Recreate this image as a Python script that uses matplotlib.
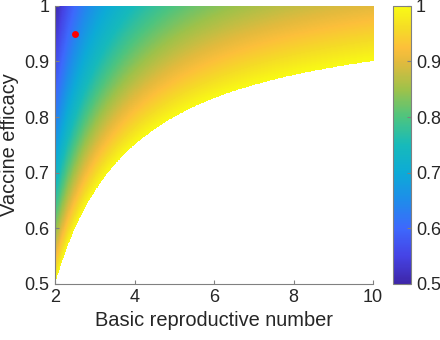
import numpy as np
import matplotlib.pyplot as plt
from matplotlib.colors import LinearSegmentedColormap

plt.rcParams['font.family'] = ['Liberation Sans', 'DejaVu Sans']

# axis ranges of the map
r0_range = [2, 10]
efficacy_range = [0.5, 1.0]
# red marker
point_r0 = [2.5]
point_eff = [0.95]
xticks = [2, 4, 6, 8, 10]
yticks = [0.5, 0.6, 0.7, 0.8, 0.9, 1.0]
ytick_labels = ['0.5', '0.6', '0.7', '0.8', '0.9', '1']
cbar_ticks = [0.5, 0.6, 0.7, 0.8, 0.9, 1.0]

# parula-like colormap
parula = LinearSegmentedColormap.from_list('parula', [
    (0.00, (0.2422, 0.1504, 0.6603)),
    (0.10, (0.2720, 0.2650, 0.9000)),
    (0.20, (0.2400, 0.4100, 0.9900)),
    (0.30, (0.1200, 0.5500, 0.9200)),
    (0.40, (0.0500, 0.6700, 0.8400)),
    (0.50, (0.0900, 0.7300, 0.7300)),
    (0.60, (0.3000, 0.7700, 0.5000)),
    (0.70, (0.6200, 0.7600, 0.2900)),
    (0.80, (0.8900, 0.7300, 0.2400)),
    (0.85, (0.9900, 0.7500, 0.2300)),
    (0.92, (0.9600, 0.8600, 0.1500)),
    (1.00, (0.9769, 0.9839, 0.0805)),
])

# critical coverage needed = (1 - 1/R0) / efficacy, blank where > 1
r0 = np.linspace(r0_range[0], r0_range[1], 900)
eff = np.linspace(efficacy_range[0], efficacy_range[1], 700)
R, E = np.meshgrid(r0, eff)
cov = (1 - 1 / R) / E
cov = np.ma.masked_where(cov > 1, cov)

fig = plt.figure(figsize=(4.4, 3.4), dpi=100)
ax = fig.add_axes([0.125, 0.165, 0.723, 0.818])
cax = fig.add_axes([0.893, 0.165, 0.040, 0.818])

im = ax.imshow(cov, origin='lower', aspect='auto', cmap=parula, vmin=0.5, vmax=1,
               extent=[r0_range[0], r0_range[1], efficacy_range[0], efficacy_range[1]],
               interpolation='nearest')
ax.plot(point_r0, point_eff, 'o', color='red', markersize=5, markeredgewidth=0)

ax.set_xlim(r0_range)
ax.set_ylim(efficacy_range)
ax.set_xticks(xticks)
ax.set_yticks(yticks)
ax.set_yticklabels(ytick_labels)
for s in ['top', 'right']:
    ax.spines[s].set_visible(False)
for s in ['left', 'bottom']:
    ax.spines[s].set_color('#808080')
    ax.spines[s].set_linewidth(0.8)
ax.tick_params(direction='in', length=3, color='#808080', labelsize=13,
               labelcolor='#262626', pad=4)
ax.set_xlabel('Basic reproductive number', fontsize=14.4, color='#262626', labelpad=3)
ax.set_ylabel('Vaccine efficacy', fontsize=14.4, color='#262626', labelpad=4)

cb = fig.colorbar(im, cax=cax, ticks=cbar_ticks)
cb.set_ticklabels(['0.5', '0.6', '0.7', '0.8', '0.9', '1'])
cb.outline.set_edgecolor('#808080')
cb.outline.set_linewidth(0.8)
cax.tick_params(direction='in', length=3, color='#808080', labelsize=13,
                labelcolor='#262626', pad=4)

fig.savefig('out.png', dpi=100)
